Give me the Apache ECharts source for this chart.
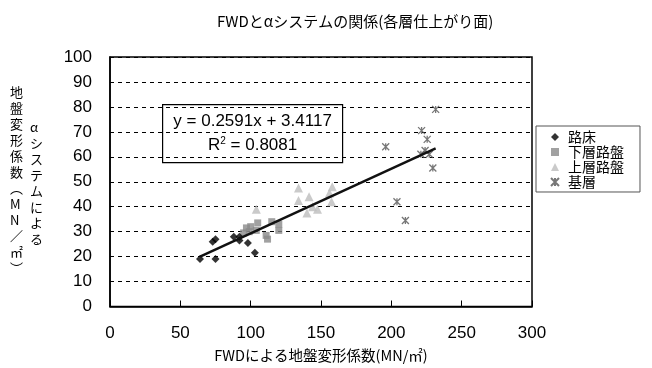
<!DOCTYPE html>
<html>
<head>
<meta charset="utf-8">
<script src="https://cdn.jsdelivr.net/npm/echarts@6/dist/echarts.min.js"></script>
<style>
  html, body { margin: 0; padding: 0; background: #fff; }
  #chart { width: 652px; height: 368px; }
</style>
</head>
<body>
<div id="chart"></div>
<script>
// FWD modulus (x) vs. α-system modulus (y), by pavement layer
var seriesNames = ['路床', '下層路盤', '上層路盤', '基層'];

var roadbed = [
  [64, 19], [75, 19], [73, 26], [75, 27], [88, 28],
  [92, 26.5], [98, 25.5], [103, 21.5], [92, 28]
];
var lowerBase = [
  [95, 29.5], [97, 31.5], [99, 30], [100, 32], [104, 30.5],
  [105, 33.5], [111, 28.5], [112, 27], [115, 34], [120, 33], [120, 30.5]
];
var upperBase = [
  [104, 39], [134, 47.5], [134, 42.5], [140, 37.5], [141.5, 44],
  [144, 40], [147.5, 39], [156, 45.5], [157.5, 42], [158, 48]
];
var baseCourse = [
  [196, 64], [204, 42], [210, 34.5], [221, 61], [221.5, 70.5],
  [224, 62.5], [225.5, 67], [227, 61], [229.5, 55.5], [231.5, 79]
];

// Linear trend stated in the annotation
var slope = 0.2591;
var intercept = 3.4117;
var r2 = 0.8081;

var xTicks = [0, 50, 100, 150, 200, 250, 300];
var yTicks = [0, 10, 20, 30, 40, 50, 60, 70, 80, 90, 100];

var allX = [].concat(roadbed, lowerBase, upperBase, baseCourse).map(function (p) { return p[0]; });
var xMin = Math.min.apply(null, allX);
var xMax = Math.max.apply(null, allX);
var trend = [[xMin, slope * xMin + intercept], [xMax, slope * xMax + intercept]];

var numFont = '"Liberation Sans", Arial, sans-serif';
var jpFont = '"Noto Sans CJK JP", sans-serif';

// asterisk marker: X plus vertical stroke
var starPath = 'path://M0,0L10,10M10,0L0,10M5,0L5,10';

var yNameRight = 'αシステムによる'.split('');
var yNameLeft = ['地', '盤', '変', '形', '係', '数', '︵', 'M', 'N', '／', '㎡', '︶'];

var chart = echarts.init(document.getElementById('chart'), null, { renderer: 'canvas' });
chart.setOption({
  animation: false,
  backgroundColor: '#fff',
  title: {
    text: 'FWDとαシステムの関係(各層仕上がり面)',
    left: 212, top: 9,
    textStyle: { fontFamily: jpFont, fontSize: 15, fontWeight: 'normal', color: '#000' }
  },
  grid: {
    left: 110, right: 120, top: 57, bottom: 61,
    show: true, borderColor: '#000', borderWidth: 1.5
  },
  legend: {
    orient: 'vertical',
    left: 536, top: 126,
    padding: [4, 16, 3, 14],
    itemGap: 1,
    itemWidth: 8, itemHeight: 8,
    borderColor: '#555', borderWidth: 1,
    textStyle: { fontFamily: jpFont, fontSize: 14, color: '#000', padding: [0, 0, 0, 4] },
    data: [
      { name: seriesNames[0], icon: 'diamond' },
      { name: seriesNames[1], icon: 'rect' },
      { name: seriesNames[2], icon: 'triangle' },
      { name: seriesNames[3] }
    ]
  },
  xAxis: {
    type: 'value', min: xTicks[0], max: xTicks[xTicks.length - 1], interval: 50,
    name: 'FWDによる地盤変形係数(MN/㎡)',
    nameLocation: 'middle', nameGap: 42,
    nameTextStyle: { fontFamily: jpFont, fontSize: 14.5, color: '#000' },
    axisLine: { show: true, lineStyle: { color: '#000', width: 1.5 } },
    axisTick: { show: true, inside: true, length: 6, lineStyle: { color: '#000', width: 1 } },
    axisLabel: { fontFamily: numFont, fontSize: 17, color: '#000', margin: 18 },
    splitLine: { show: false }
  },
  yAxis: {
    type: 'value', min: yTicks[0], max: yTicks[yTicks.length - 1], interval: 10,
    axisLine: { show: true, lineStyle: { color: '#000', width: 1.5 } },
    axisTick: { show: false },
    axisLabel: { fontFamily: numFont, fontSize: 17, color: '#000', margin: 18 },
    splitLine: { show: true, lineStyle: { color: '#000', type: [4, 4], width: 1 } }
  },
  graphic: [
    {
      type: 'text', left: 30, top: 119,
      style: {
        text: yNameRight.join('\n'), fontFamily: jpFont, fontSize: 13,
        lineHeight: 16, fill: '#000', align: 'center'
      }
    },
    {
      type: 'text', left: 10, top: 84,
      style: {
        text: yNameLeft.join('\n'), fontFamily: jpFont, fontSize: 13,
        lineHeight: 16, fill: '#000', align: 'center'
      }
    },
    {
      type: 'group', left: 162, top: 104,
      children: [
        {
          type: 'rect', shape: { x: 0, y: 0, width: 180, height: 58 },
          style: { fill: '#fff', stroke: '#000', lineWidth: 1.2 }
        },
        {
          type: 'text', x: 90, y: 8,
          style: {
            text: 'y = ' + slope.toFixed(4) + 'x + ' + intercept.toFixed(4),
            fontFamily: numFont, fontSize: 17, fill: '#000', align: 'center'
          }
        },
        {
          type: 'text', x: 90, y: 32,
          style: {
            text: '{r|R}{s|2}{r| = ' + r2.toFixed(4) + '}',
            align: 'center',
            rich: {
              r: { fontFamily: numFont, fontSize: 17, fill: '#000' },
              s: { fontFamily: numFont, fontSize: 10, fill: '#000', verticalAlign: 'top', padding: [0, 0, 8, 0] }
            }
          }
        }
      ]
    }
  ],
  series: [
    {
      name: seriesNames[0], type: 'scatter', data: roadbed,
      symbol: 'diamond', symbolSize: 8,
      itemStyle: { color: '#000' }, z: 5
    },
    {
      name: seriesNames[1], type: 'scatter', data: lowerBase,
      symbol: 'rect', symbolSize: 7,
      itemStyle: { color: '#8a8a8a' }, z: 4
    },
    {
      name: seriesNames[2], type: 'scatter', data: upperBase,
      symbol: 'triangle', symbolSize: 9,
      itemStyle: { color: '#bdbdbd' }, z: 3
    },
    {
      name: seriesNames[3], type: 'scatter', data: baseCourse,
      symbol: starPath, symbolSize: 7,
      itemStyle: { color: 'rgba(0,0,0,0)', borderColor: '#555', borderWidth: 1.3 }, z: 3
    },
    {
      name: 'trend', type: 'line', data: trend,
      symbol: 'none', silent: true,
      lineStyle: { color: '#111', width: 2.5 }, z: 6
    }
  ]
});
</script>
</body>
</html>
